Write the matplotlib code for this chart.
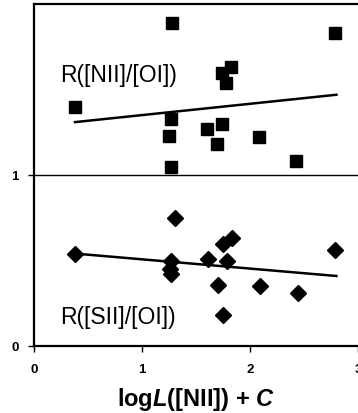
import matplotlib.pyplot as plt

plt.rcParams['font.family'] = ['Liberation Sans', 'DejaVu Sans']
plt.rcParams['mathtext.fontset'] = 'custom'
plt.rcParams['mathtext.it'] = 'Liberation Sans:italic:bold'
plt.rcParams['mathtext.rm'] = 'Liberation Sans:bold'

# R([NII]/[OI]) values, shifted up by 1 on the plot
nii_x = [1.28, 2.79, 1.82, 1.74, 1.78, 0.38, 1.27, 1.74, 1.60, 1.25, 2.08, 1.69, 2.43, 1.27]
nii_y = [0.89, 0.83, 0.63, 0.60, 0.54, 0.40, 0.33, 0.30, 0.27, 0.23, 0.22, 0.18, 0.08, 0.05]
nii_fit_x = [0.38, 2.80]
nii_fit_y = [0.31, 0.47]

# R([SII]/[OI]) values
sii_x = [0.38, 1.31, 1.27, 1.26, 1.27, 1.61, 1.79, 1.75, 1.83, 2.79, 1.70, 2.09, 2.44, 1.75]
sii_y = [0.54, 0.75, 0.50, 0.45, 0.42, 0.51, 0.50, 0.60, 0.63, 0.56, 0.36, 0.35, 0.31, 0.18]
sii_fit_x = [0.40, 2.80]
sii_fit_y = [0.54, 0.41]

offset = 1.0

fig = plt.figure(figsize=(3.58, 4.13), dpi=100)
ax = fig.add_axes([0.095, 0.162, 0.905, 0.828])

ax.plot(nii_x, [v + offset for v in nii_y], 's', color='black', markersize=8.5)
ax.plot(nii_fit_x, [v + offset for v in nii_fit_y], '-', color='black', lw=1.8)
ax.plot(sii_x, sii_y, 'D', color='black', markersize=8.5)
ax.plot(sii_fit_x, sii_fit_y, '-', color='black', lw=1.8)
ax.axhline(1.0, color='black', lw=1)

ax.text(0.24, 1.58, "R([NII]/[OI])", fontsize=16.5, va='center')
ax.text(0.24, 0.17, "R([SII]/[OI])", fontsize=16.5, va='center')

ax.set_xlim(0, 3)
ax.set_ylim(0, 2)
ax.set_xticks([0, 1, 2, 3])
ax.set_yticks([0, 1])
ax.tick_params(direction='out', length=4, width=1, labelsize=9.5)
ax.tick_params(axis='x', pad=9)
ax.tick_params(axis='y', pad=7)
for lab in ax.get_xticklabels() + ax.get_yticklabels():
    lab.set_fontweight('bold')
ax.set_xlabel(r"log$\it{L}$([NII]) + $\it{C}$", fontsize=17, fontweight='bold', labelpad=7)
ax.spines['right'].set_visible(False)
for s in ['left', 'bottom', 'top']:
    ax.spines[s].set_linewidth(1.6)

fig.savefig('out.png', dpi=100)
